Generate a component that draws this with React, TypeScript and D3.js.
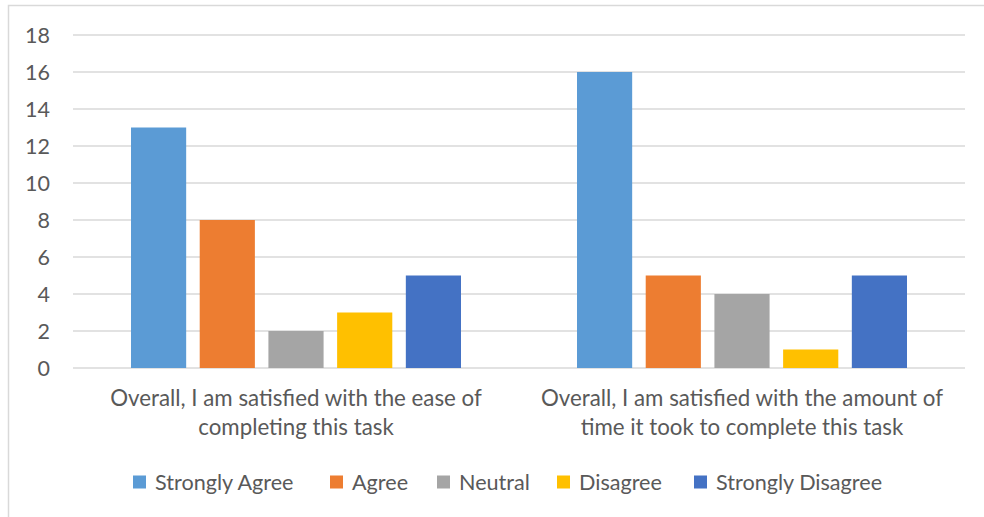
import React from "react";
import * as d3 from "d3";

const categories: string[][] = [
  ["Overall, I am satisfied with the ease of", "completing this task"],
  ["Overall, I am satisfied with the amount of", "time it took to complete this task"],
];
const seriesNames = ["Strongly Agree", "Agree", "Neutral", "Disagree", "Strongly Disagree"];
const seriesColors = ["#5B9BD5", "#ED7D31", "#A5A5A5", "#FFC000", "#4472C4"];
const values: number[][] = [
  [13, 8, 2, 3, 5],
  [16, 5, 4, 1, 5],
];
const yTicks = [0, 2, 4, 6, 8, 10, 12, 14, 16, 18];

const W = 984;
const H = 517;
const plotLeft = 73;
const plotRight = 965;
const plotTop = 35;
const plotBottom = 368;
const FONT = "Lato, 'Open Sans', sans-serif";
const TEXT = "#595959";

export default function App() {
  const x0 = d3
    .scaleBand<number>()
    .domain(categories.map((_, i) => i))
    .range([plotLeft, plotRight])
    .padding(0);
  const cw = x0.bandwidth();
  const x1 = d3
    .scaleBand<number>()
    .domain(seriesNames.map((_, i) => i))
    .range([58, cw - 58])
    .paddingInner(0.197)
    .paddingOuter(0);
  const y = d3.scaleLinear().domain([0, 18]).range([plotBottom, plotTop]);

  const legendX = [133, 330, 437, 557, 694];

  return (
    <svg
      width={W}
      height={H}
      style={{ position: "absolute", left: 0, top: 0, background: "#fff" }}
      fontFamily={FONT}
    >
      <rect x={0} y={0} width={W} height={H} fill="#fff" />
      <rect x={8.5} y={5.5} width={1100} height={600} fill="#fff" stroke="#d9d9d9" strokeWidth={1.5} />
      {yTicks.map((t) => (
        <g key={t}>
          <line
            x1={plotLeft}
            x2={plotRight}
            y1={y(t)}
            y2={y(t)}
            stroke="#d9d9d9"
            strokeWidth={1.3}
          />
          <text
            x={50}
            y={y(t)}
            dy="0.36em"
            textAnchor="end"
            fontSize={21.5}
            fill={TEXT}
          >
            {t}
          </text>
        </g>
      ))}
      {values.map((row, ci) =>
        row.map((v, si) => (
          <rect
            key={`${ci}-${si}`}
            x={(x0(ci) as number) + (x1(si) as number)}
            y={y(v)}
            width={x1.bandwidth()}
            height={y(0) - y(v)}
            fill={seriesColors[si]}
          />
        ))
      )}
      {categories.map((lines, ci) => (
        <text
          key={ci}
          x={(x0(ci) as number) + cw / 2}
          textAnchor="middle"
          fontSize={22.3}
          fill={TEXT}
        >
          {lines.map((l, li) => (
            <tspan key={li} x={(x0(ci) as number) + cw / 2} y={406 + li * 29}>
              {l}
            </tspan>
          ))}
        </text>
      ))}
      {seriesNames.map((s, si) => (
        <g key={s}>
          <rect x={legendX[si]} y={475.5} width={13} height={13} fill={seriesColors[si]} />
          <text x={legendX[si] + 22} y={482} dy="0.36em" fontSize={21.6} fill={TEXT}>
            {s}
          </text>
        </g>
      ))}
    </svg>
  );
}
